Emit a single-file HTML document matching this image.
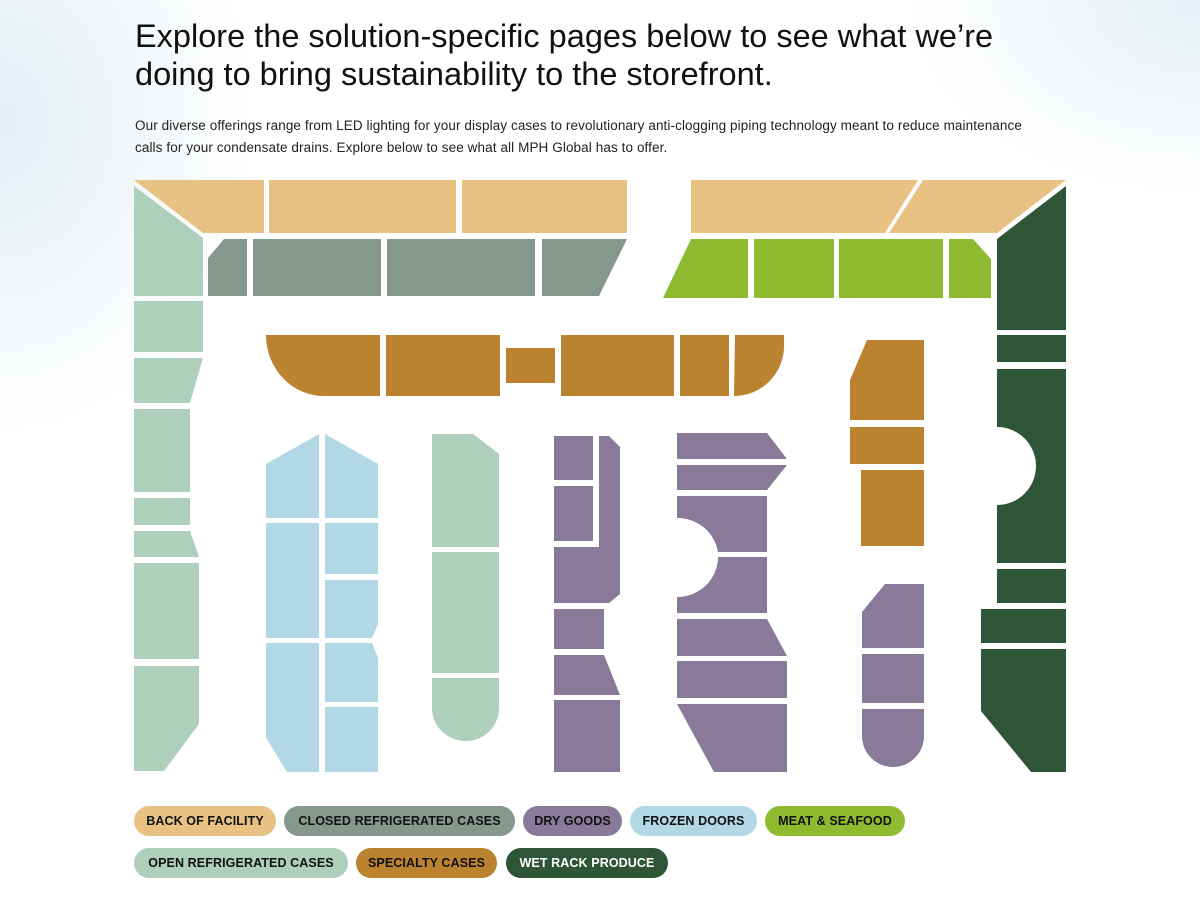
<!DOCTYPE html>
<html><head><meta charset="utf-8"><style>
html,body{margin:0;padding:0}
body{width:1200px;height:900px;position:relative;overflow:hidden;font-family:"Liberation Sans",sans-serif;
background:radial-gradient(ellipse 260px 320px at 0px 120px,#e3eef4 0%,rgba(255,255,255,0) 100%),radial-gradient(ellipse 300px 200px at 1200px 0px,#e6f0f5 0%,rgba(255,255,255,0) 100%),#fff;}
h1{position:absolute;left:135px;top:17px;margin:0;font-weight:400;font-size:32.5px;line-height:38px;color:#111;letter-spacing:0px;width:1000px;white-space:nowrap}
p{position:absolute;left:135px;top:115px;margin:0;font-size:13.5px;line-height:22px;color:#222;width:950px;letter-spacing:0.1px}
svg{position:absolute;left:0;top:0}
.pill{position:absolute;height:30px;line-height:30px;border-radius:15px;font-size:12.5px;font-weight:700;color:#111;text-align:center;letter-spacing:0.1px}
</style></head><body>
<h1>Explore the solution-specific pages below to see what we’re<br>doing to bring sustainability to the storefront.</h1>
<p>Our diverse offerings range from LED lighting for your display cases to revolutionary anti-clogging piping technology meant to reduce maintenance<br>calls for your condensate drains. Explore below to see what all MPH Global has to offer.</p>
<svg width="1200" height="900" viewBox="0 0 1200 900">
<g fill="#e8c283">
<polygon points="134,180 264,180 264,233 203,233"/>
<rect x="269" y="180" width="187" height="53"/>
<rect x="462" y="180" width="165" height="53"/>
<polygon points="691,180 918,180 885,233 691,233"/>
<polygon points="923,180 1066,180 997,233 889,233"/>
</g>
<g fill="#84988d">
<polygon points="208,258 224,239 247,239 247,296 208,296"/>
<rect x="253" y="239" width="128" height="57"/>
<rect x="387" y="239" width="148" height="57"/>
<polygon points="542,239 627,239 599,296 542,296"/>
</g>
<g fill="#8fbb31">
<polygon points="691,239 748,239 748,298 663,298"/>
<rect x="754" y="239" width="80" height="59"/>
<rect x="839" y="239" width="104" height="59"/>
<polygon points="949,239 973,239 991,259 991,298 949,298"/>
</g>
<g fill="#afcfbd">
<polygon points="134,186 203,238 203,296 134,296"/>
<rect x="134" y="301" width="69" height="51"/>
<polygon points="134,358 203,358 190,403 134,403"/>
<rect x="134" y="409" width="56" height="83"/>
<rect x="134" y="498" width="56" height="27"/>
<polygon points="134,531 190,531 199,557 134,557"/>
<rect x="134" y="563" width="65" height="96"/>
<polygon points="134,666 199,666 199,724 164,771 134,771"/>
<polygon points="432,434 473,434 499,454 499,547 432,547"/>
<rect x="432" y="552" width="67" height="121"/>
<path d="M432,678 H499 V708 A33,33 0 0 1 466,741 A34,33 0 0 1 432,708 Z"/>
</g>
<g fill="#bb8330">
<path d="M266,335 H380 V396 H324 A58,61 0 0 1 266,335 Z"/>
<rect x="386" y="335" width="114" height="61"/>
<rect x="506" y="348" width="49" height="35"/>
<rect x="561" y="335" width="113" height="61"/>
<rect x="680" y="335" width="49" height="61"/>
<path d="M735,335 H784 V346 A50,50 0 0 1 734,396 Z"/>
<polygon points="867,340 924,340 924,420 850,420 850,380"/>
<rect x="850" y="427" width="74" height="37"/>
<rect x="861" y="470" width="63" height="76"/>
</g>
<g fill="#2e5535">
<polygon points="997,239 1066,186 1066,330 997,330"/>
<rect x="997" y="335" width="69" height="27"/>
<path d="M997,369 H1066 V563 H997 V505 A39,39 0 0 0 997,427 Z"/>
<rect x="997" y="569" width="69" height="34"/>
<rect x="981" y="609" width="85" height="34"/>
<polygon points="981,649 1066,649 1066,772 1031,772 981,711"/>
</g>
<g fill="#b2d8e5">
<polygon points="266,464 319,434 319,518 266,518"/>
<polygon points="325,434 378,464 378,518 325,518"/>
<rect x="266" y="523" width="53" height="115"/>
<rect x="325" y="523" width="53" height="51"/>
<polygon points="325,580 378,580 378,624 372,638 325,638"/>
<polygon points="266,643 319,643 319,772 287,772 266,738"/>
<polygon points="325,643 372,643 378,658 378,702 325,702"/>
<rect x="325" y="707" width="53" height="65"/>
</g>
<g fill="#897a9a">
<rect x="554" y="436" width="39" height="44"/>
<rect x="554" y="486" width="39" height="55"/>
<polygon points="599,436 609,436 620,447 620,594 609,603 554,603 554,547 599,547"/>
<rect x="554" y="609" width="50" height="40"/>
<polygon points="554,655 604,655 620,695 554,695"/>
<rect x="554" y="700" width="66" height="72"/>
<polygon points="677,433 767,433 787,459 677,459"/>
<polygon points="677,465 787,465 767,490 677,490"/>
<path d="M677,496 H767 V552 H718 A41,41 0 0 0 677,518 Z"/>
<path d="M677,597 A41,40 0 0 0 718,557 H767 V613 H677 Z"/>
<polygon points="677,619 767,619 787,656 677,656"/>
<rect x="677" y="661" width="110" height="37"/>
<polygon points="677,704 787,704 787,772 714,772"/>
<polygon points="885,584 924,584 924,648 862,648 862,612"/>
<rect x="862" y="654" width="62" height="49"/>
<path d="M862,709 H924 V736 A31,31 0 0 1 893,767 A31,31 0 0 1 862,736 Z"/>
</g>
</svg>
<div class="pill" style="left:134px;top:806px;width:142px;background:#e8c283">BACK OF FACILITY</div>
<div class="pill" style="left:284px;top:806px;width:231px;background:#84988d">CLOSED REFRIGERATED CASES</div>
<div class="pill" style="left:523px;top:806px;width:99px;background:#897a9a">DRY GOODS</div>
<div class="pill" style="left:630px;top:806px;width:127px;background:#b2d8e5">FROZEN DOORS</div>
<div class="pill" style="left:765px;top:806px;width:140px;background:#8fbb31">MEAT &amp; SEAFOOD</div>
<div class="pill" style="left:134px;top:848px;width:214px;background:#afcfbd">OPEN REFRIGERATED CASES</div>
<div class="pill" style="left:356px;top:848px;width:141px;background:#bb8330">SPECIALTY CASES</div>
<div class="pill" style="left:506px;top:848px;width:162px;background:#2e5535;color:#fff">WET RACK PRODUCE</div>
</body></html>
